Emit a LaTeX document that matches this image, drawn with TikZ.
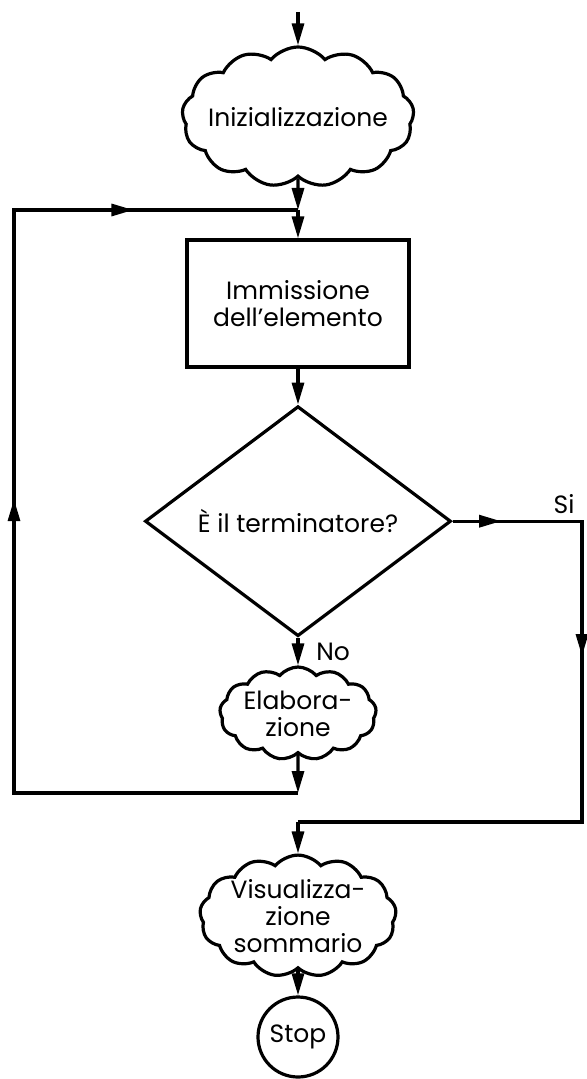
\documentclass[tikz,border=0pt]{standalone}
\usepackage{fontspec}
\setmainfont{Poppins}
\usetikzlibrary{shapes.geometric, shapes.symbols, arrows.meta, positioning, decorations.markings}

\begin{document}
\begin{tikzpicture}[
  font=\fontsize{12.5}{13.5}\selectfont,
  line width=1.6pt,
  >={Triangle[length=11pt,width=6pt]},
  nube/.style={draw, cloud, cloud puffs=13, cloud puff arc=100, cloud ignores aspect,
               align=center, inner sep=0pt},
  box/.style={draw, align=center, minimum width=111pt, minimum height=63.5pt},
  rombo/.style={draw, diamond, aspect=1.33, inner sep=0pt,
                minimum width=153pt, minimum height=115pt},
  tondo/.style={draw, circle, minimum size=40pt, inner sep=0pt},
  arr/.style={->}]

  \useasboundingbox (-149pt,0) rectangle (144pt,-539.5pt);

  % main column, top to bottom
  \node[nube, inner xsep=-12pt, minimum width=116pt, minimum height=70pt] (init) at (0,-58.5pt) {Inizializzazione};
  \node[box] (imm) at (0,-151.75pt) {Immissione\\dell’elemento};
  \node[rombo, below=18pt of imm] (dia) {È il terminatore?};
  \node[nube, minimum width=75pt, minimum height=46.5pt] (elab) at (0,-356.75pt) {Elabora-\\zione};
  \node[nube, minimum width=92.5pt, minimum height=54pt] (vis) at (0,-458pt) {Visualizza-\\zione\\sommario};
  \node[tondo] (stop) at (0,-518.5pt) {Stop};

  % junctions and corners of the two loops
  \coordinate (start) at (0,-6pt);
  \coordinate (jt) at (0,-105pt);
  \coordinate (lb) at (0,-396.5pt);
  \coordinate (ll) at (-142pt,-396.5pt);
  \coordinate (lt) at (-142pt,-105pt);
  \coordinate (sb) at (142pt,-411pt);
  \coordinate (jv) at (0,-411pt);
  \coordinate (sr) at (sb |- dia.east);

  \draw[arr] (start) -- (init);
  \draw[arr] (init) -- (jt);
  \draw[arr] (jt) -- (imm);
  \draw[arr] (imm) -- (dia);
  \draw[arr] (dia) -- node[right=5pt]{No} (elab);
  \draw[arr] (elab) -- (lb);

  % back to the input
  \draw[postaction={decorate}, decoration={markings,
      mark=at position 0.502 with {\arrow{>}},
      mark=at position 0.857 with {\arrow{>}}}]
    (lb) -- (ll) -- (lt) -- (jt);

  % exit branch
  \draw[postaction={decorate}, decoration={markings,
      mark=at position 0.068 with {\arrow{>}},
      mark=at position 0.37 with {\arrow{>}}}]
    (dia.east) -- (sr) -- (sb) -- (jv);
  \node[above left, inner sep=3pt] (si) at (sr) {Si};
  \draw[arr] (jv) -- (vis);
  \draw[arr] (vis) -- (stop);
\end{tikzpicture}
\end{document}
